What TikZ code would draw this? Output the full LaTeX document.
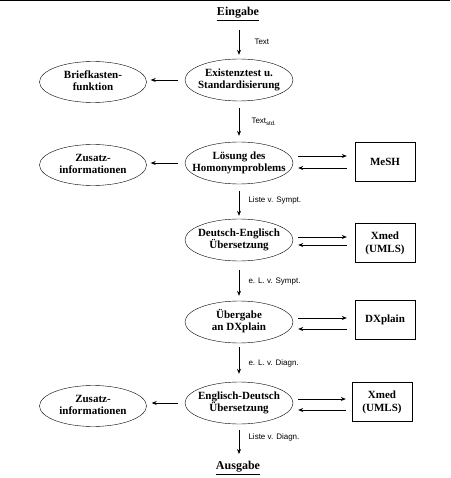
\documentclass[tikz,border=0pt]{standalone}
\usepackage{fontspec}
\setmainfont{Liberation Serif}
\setsansfont{Liberation Sans}
\usetikzlibrary{arrows.meta,shapes.geometric}
\newcommand{\twol}[2]{\makebox[0pt][c]{\begin{tabular}{@{}c@{}}#1\\#2\end{tabular}}}
\begin{document}
\begin{tikzpicture}[x=1pt,y=-1pt,
  proc/.style={draw,ellipse,minimum width=108pt,minimum height=42pt,inner sep=0pt,font=\fontsize{11}{12.5}\selectfont\bfseries},
  side/.style={draw,ellipse,minimum width=107pt,minimum height=41pt,inner sep=0pt,font=\fontsize{11}{12.5}\selectfont\bfseries},
  extbox/.style={draw,rectangle,minimum width=60pt,minimum height=39pt,inner sep=0pt,align=center,font=\fontsize{11}{13}\selectfont\bfseries},
  term/.style={font=\fontsize{12}{14}\selectfont\bfseries},
  lbl/.style={font=\sffamily\fontsize{8}{9}\selectfont,anchor=west},
  arr/.style={-{Stealth[length=5pt,width=4pt]},line width=0.6pt},
]
\useasboundingbox (0,0) rectangle (450,478);
\fill[black] (0,0) rectangle (450,1.5);

\node[term] (in) at (238,14) {\underline{Eingabe}};
\node[proc] (e1) at (239,80) {\twol{Existenztest u.}{Standardisierung}};
\node[side] (s1) at (93,82) {\twol{Briefkasten-}{funktion}};
\node[proc] (e2) at (239,163) {\twol{Lösung des}{Homonymproblems}};
\node[side] (s2) at (93,165) {\twol{Zusatz-}{informationen}};
\node[extbox] (b2) at (385,162) {MeSH};
\node[proc] (e3) at (239,240) {\twol{Deutsch-Englisch}{Übersetzung}};
\node[extbox] (b3) at (385,243) {Xmed\\(UMLS)};
\node[proc] (e4) at (239,322) {\twol{Übergabe}{an DXplain}};
\node[extbox] (b4) at (385,320) {DXplain};
\node[proc] (e5) at (239,403) {\twol{Englisch-Deutsch}{Übersetzung}};
\node[side] (s5) at (93,406) {\twol{Zusatz-}{informationen}};
\node[extbox] (b5) at (382,402) {Xmed\\(UMLS)};
\node[term] (out) at (238,468) {\underline{Ausgabe}};

% vertical flow
\draw[arr,shorten <=6pt,shorten >=4pt] (in.south -| e1) -- (e1.north);
\node[lbl] (l0) at (251,42) {Text};
\draw[arr,shorten <=7pt,shorten >=6pt] (e1.south) -- (e2.north);
\node[lbl] (l1) at (248,122) {Text\textsubscript{std.}};
\draw[arr,shorten <=7pt,shorten >=3pt] (e2.south) -- (e3.north);
\node[lbl] (l2) at (245,200) {Liste v. Sympt.};
\draw[arr,shorten <=9pt,shorten >=5pt] (e3.south) -- (e4.north);
\node[lbl] (l3) at (245,282) {e. L. v. Sympt.};
\draw[arr,shorten <=4pt,shorten >=8pt] (e4.south) -- (e5.north);
\node[lbl] (l4) at (245,363) {e. L. v. Diagn.};
\draw[arr,shorten <=6pt,shorten >=4pt] (e5.south) -- (out.north -| e5);
\node[lbl] (l5) at (245,437) {Liste v. Diagn.};

% left arrows
\draw[arr,shorten <=7pt,shorten >=4pt] (e1.west) -- (e1.west -| s1.east);
\draw[arr,shorten <=7pt,shorten >=4pt] (e2.west) -- (e2.west -| s2.east);
\draw[arr,shorten <=7pt,shorten >=5pt] (e5.west) -- (e5.west -| s5.east);

% right pairs
\draw[arr,shorten <=5pt,shorten >=8pt] ([yshift=7pt]e2.east) -- ([yshift=7pt]e2.east -| b2.west);
\draw[arr,shorten <=8pt,shorten >=5pt] ([yshift=-5pt]e2.east -| b2.west) -- ([yshift=-5pt]e2.east);
\draw[arr,shorten <=5pt,shorten >=8pt] ([yshift=3pt]e3.east) -- ([yshift=3pt]e3.east -| b3.west);
\draw[arr,shorten <=8pt,shorten >=5pt] ([yshift=-5pt]e3.east -| b3.west) -- ([yshift=-5pt]e3.east);
\draw[arr,shorten <=5pt,shorten >=8pt] ([yshift=4pt]e4.east) -- ([yshift=4pt]e4.east -| b4.west);
\draw[arr,shorten <=8pt,shorten >=5pt] ([yshift=-7pt]e4.east -| b4.west) -- ([yshift=-7pt]e4.east);
\draw[arr,shorten <=5pt,shorten >=6pt] ([yshift=4pt]e5.east) -- ([yshift=4pt]e5.east -| b5.west);
\draw[arr,shorten <=6pt,shorten >=5pt] ([yshift=-7pt]e5.east -| b5.west) -- ([yshift=-7pt]e5.east);
\end{tikzpicture}
\end{document}
